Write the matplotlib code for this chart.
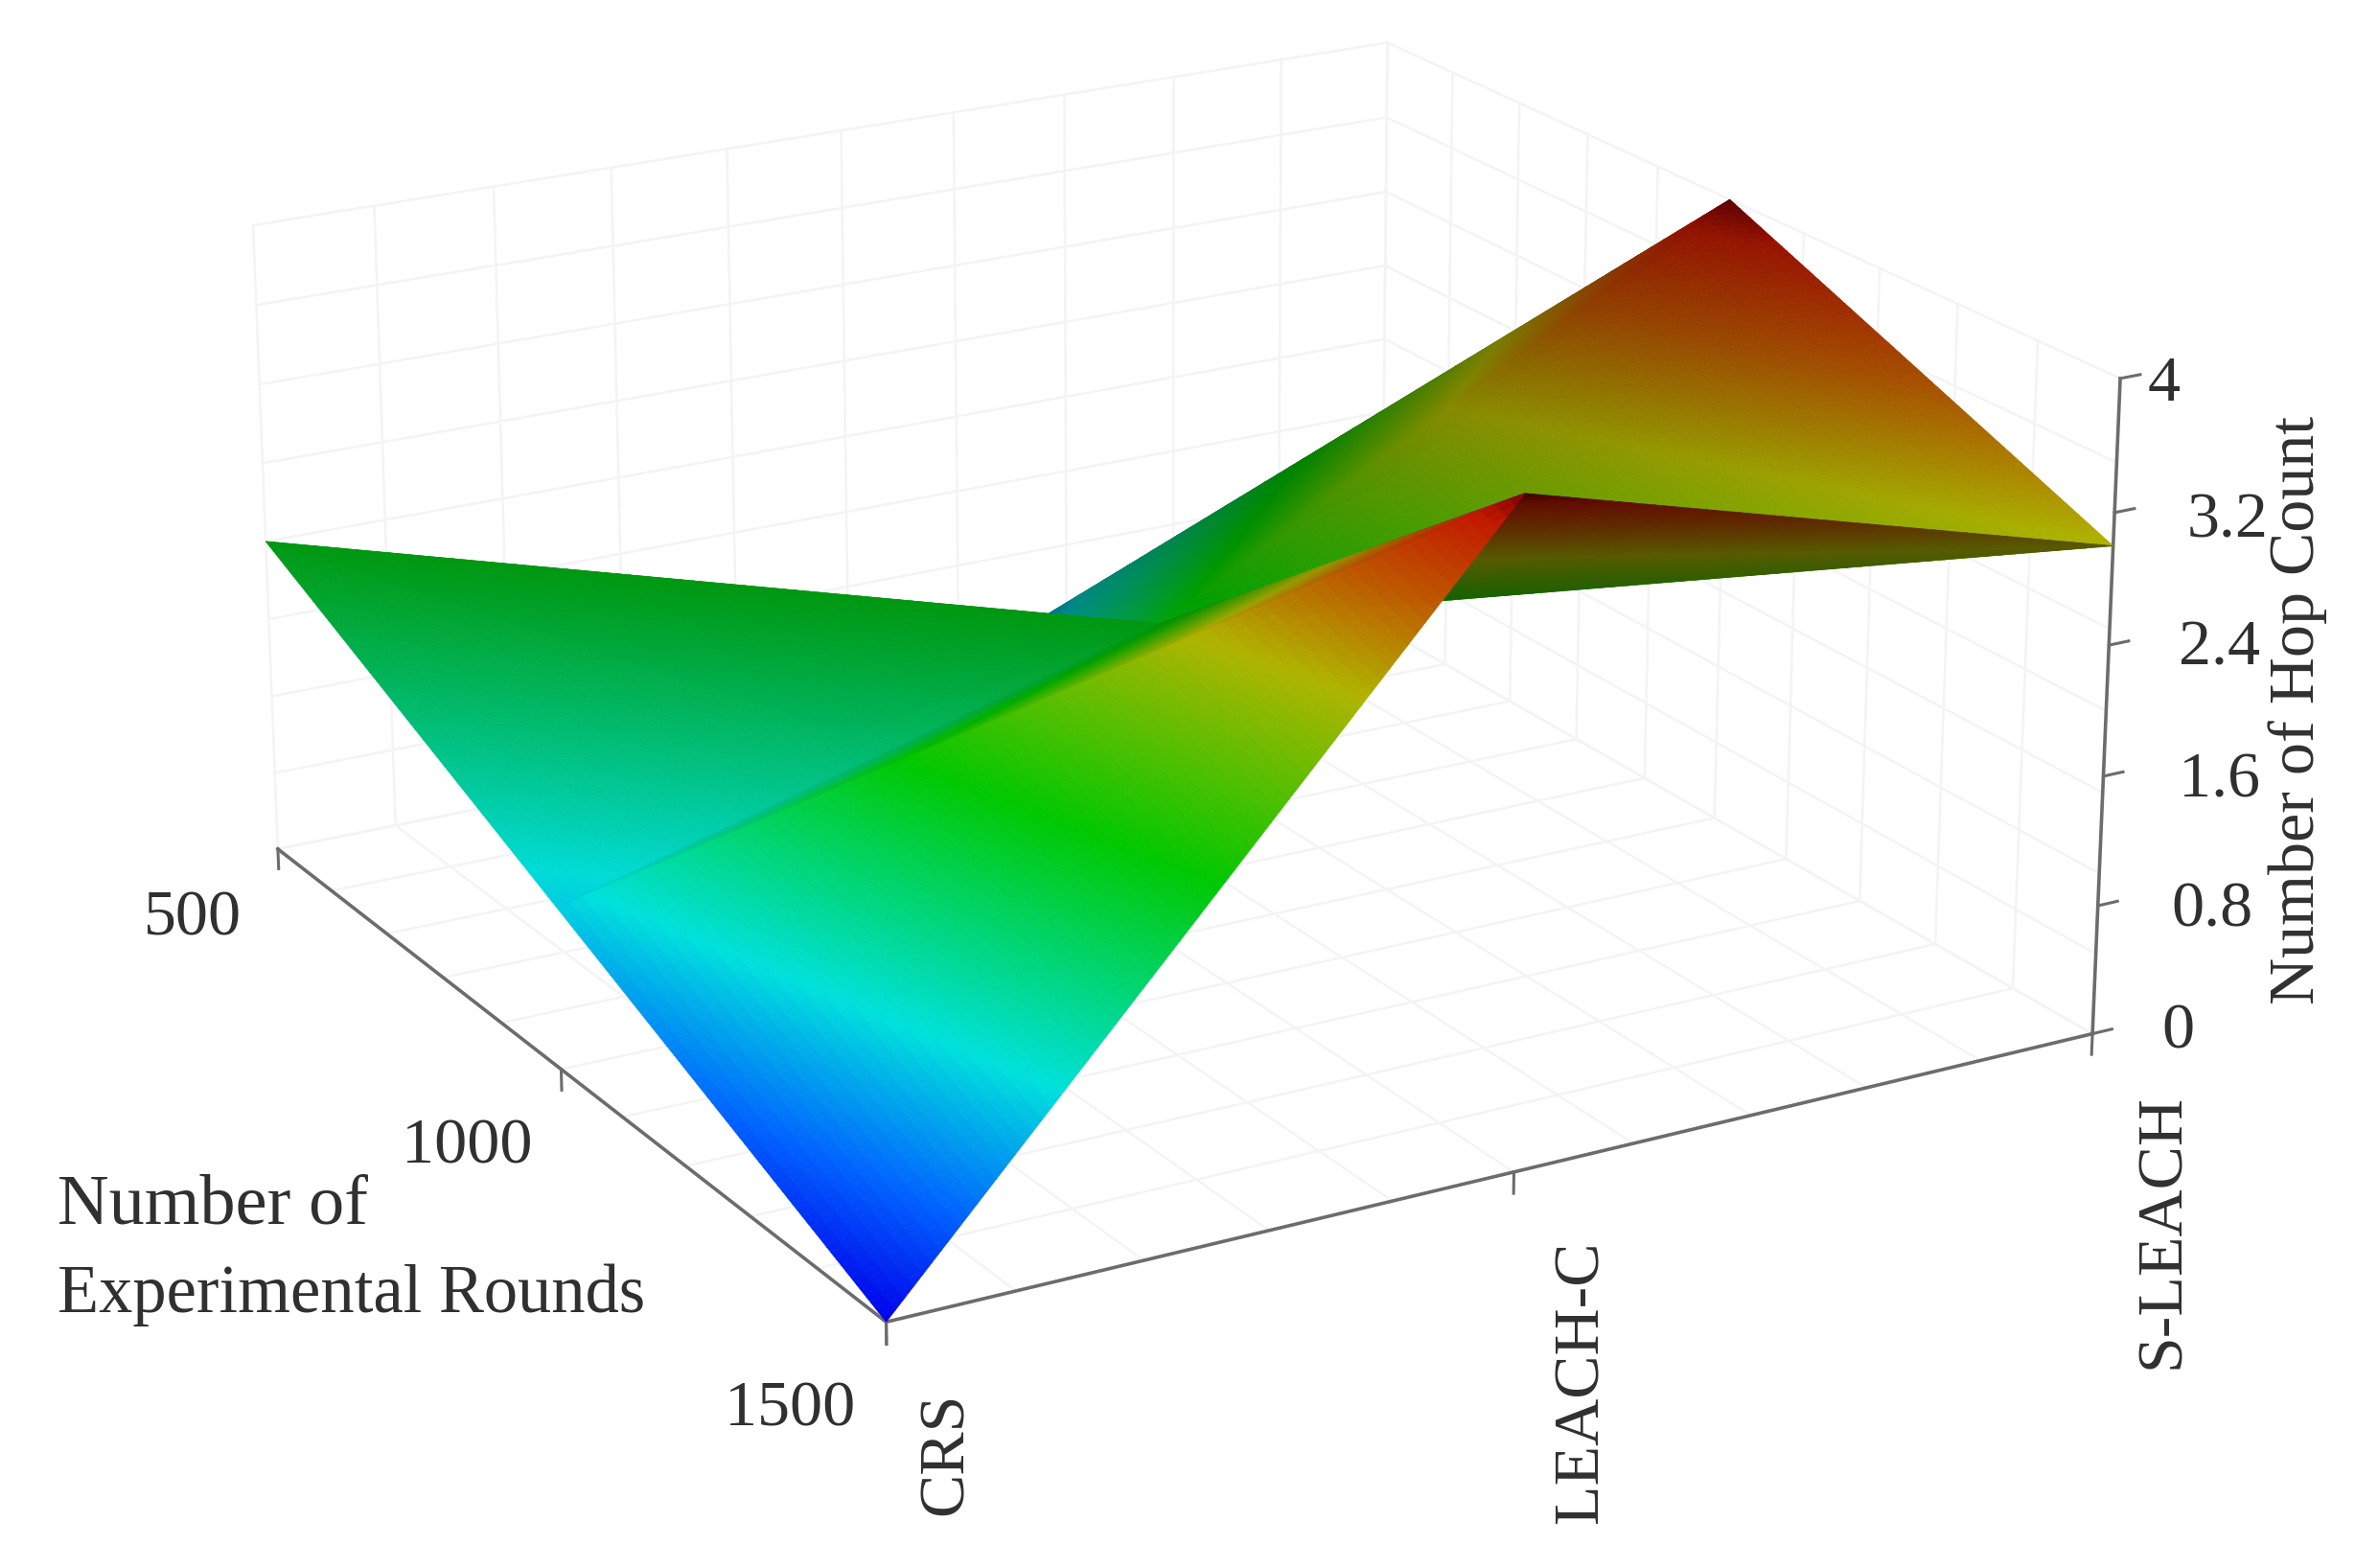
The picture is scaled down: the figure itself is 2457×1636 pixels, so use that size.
import numpy as np
import matplotlib
matplotlib.use('Agg')
import matplotlib.pyplot as plt
from mpl_toolkits.mplot3d.art3d import Poly3DCollection

# ---- data ----
protocols = ['CRS', 'LEACH-C', 'S-LEACH']
rounds = [500, 1000, 1500]
hop_crs = [2.0, 1.0, 0.0]
hop_leach_c = [0.0, 2.0, 4.0]
hop_s_leach = [1.0, 4.0, 3.0]
z_ticks = [0, 0.8, 1.6, 2.4, 3.2, 4]

plt.rcParams['font.family'] = ['Liberation Serif', 'DejaVu Serif']

W_PX, H_PX = 2457, 1636
fig = plt.figure(figsize=(W_PX / 100, H_PX / 100), dpi=100, facecolor='white')

# camera and placement
AX_W = 11089.7 * 0.19 * 0.972
CX, CY = 1182.3, 678.5
ax = fig.add_axes([(CX - AX_W / 2) / W_PX, (H_PX - CY - AX_W / 2) / H_PX, AX_W / W_PX, AX_W / H_PX],
                  projection='3d')
ax.set_xlim(0, 2)
ax.set_ylim(1500, 500)
ax.set_zlim(0, 4)
ax.view_init(20.032, -119.913)
ax.set_proj_type('persp', focal_length=0.77)
ax.set_box_aspect((1.981, 1.978, 1.0))
ax.set_axis_off()
ax.computed_zorder = False
ax.patch.set_alpha(0)

# colour ramp of the surface, by height
ramp_z = [0, 0.5, 1.1, 2.1, 3.0, 3.45, 3.85, 4.0]
ramp_rgb = np.array([(0, 0, 235), (0, 100, 255), (0, 225, 220), (0, 200, 0),
                     (175, 180, 0), (190, 90, 0), (195, 25, 0), (125, 0, 0)]) / 255.0


def ramp(z):
    return np.column_stack([np.interp(z, ramp_z, ramp_rgb[:, i]) for i in range(3)])


Z = np.array([hop_crs, hop_leach_c, hop_s_leach])  # [protocol, round]
Y = np.array(rounds, float)

# triangles: (protocol index, round index) with brightness per corner
tris = [
    (((0, 0), (1, 0), (1, 1)), (0.7, 0.7, 0.7)),
    (((1, 0), (2, 0), (2, 1)), (0.55, 0.55, 0.55)),
    (((0, 0), (0, 1), (1, 1)), (0.75, 1.0, 0.75)),
    (((1, 0), (1, 1), (2, 1)), (0.55, 0.8, 0.74)),
    (((1, 1), (2, 1), (2, 2)), (0.8, 0.74, 1.0)),
    (((0, 1), (1, 1), (1, 2)), (0.95, 0.72, 0.95)),
    (((1, 1), (1, 2), (2, 2)), (0.5, 0.5, 0.5)),
    (((0, 1), (0, 2), (1, 2)), (1.0, 1.0, 1.0)),
]

N = 70
verts, cols = [], []
for corners, shades in tris:
    pts = np.array([(i, Y[j], Z[i, j]) for i, j in corners], float)
    sh = np.array(shades)

    def bary(a, b):
        c = N - a - b
        w = np.array([a, b, c]) / N
        return w @ pts, w @ sh

    for a in range(N):
        for b in range(N - a):
            t1 = [bary(a, b), bary(a + 1, b), bary(a, b + 1)]
            tl = [t1]
            if a + b < N - 1:
                tl.append([bary(a + 1, b), bary(a + 1, b + 1), bary(a, b + 1)])
            for t in tl:
                P = np.array([q[0] for q in t])
                s = np.mean([q[1] for q in t])
                verts.append(P)
                cols.append(np.clip(ramp(np.array([P[:, 2].mean()]))[0] * s, 0, 1))

# light grid on floor and walls
GRID = '#f4f4f4'
gx = np.linspace(0, 2, 11)
gy = np.linspace(500, 1500, 11)
gz = np.linspace(0, 4, 9)
gk = dict(color=GRID, lw=1.8, zorder=1, clip_on=False)
for x in gx:
    ax.plot([x, x], [500, 1500], [0, 0], **gk)
    ax.plot([x, x], [500, 500], [0, 4], **gk)
for y in gy:
    ax.plot([0, 2], [y, y], [0, 0], **gk)
    ax.plot([2, 2], [y, y], [0, 4], **gk)
for z in gz:
    ax.plot([0, 2], [500, 500], [z, z], **gk)
    ax.plot([2, 2], [500, 1500], [z, z], **gk)

# axes
AXC = '#6c6c6c'
ak = dict(color=AXC, lw=2.6, zorder=2, clip_on=False)
tk = dict(color=AXC, lw=2.2, zorder=2, clip_on=False)
ax.plot([0, 0], [500, 1500], [0, 0], **ak)
ax.plot([0, 2], [1500, 1500], [0, 0], **ak)
ax.plot([2, 2], [1500, 1500], [0, 4], **ak)
for y in rounds:
    ax.plot([0, 0], [y, y], [0, -0.13], **tk)
for x in range(3):
    ax.plot([x, x], [1500, 1500], [0, -0.13], **tk)
for z in z_ticks:
    ax.plot([2, 2.035], [1500, 1500], [z, z], **tk)

surf = Poly3DCollection(verts, facecolors=cols, edgecolors=cols, linewidths=0.5, zorder=3, clip_on=False)
surf.set_zsort('average')
ax.add_collection3d(surf)


# text: positions given in the 1568x1044 picture frame
def put(px, py, s, size=49, rot=0, ha='center'):
    fig.text(px / 1568, 1 - py / 1044, s, fontsize=size, rotation=rot, ha=ha, va='center',
             color='#303030')


for s, (px, py) in zip(rounds, [(128, 612), (311, 764), (526, 939)]):
    put(px, py, str(s))
for s, (px, py) in zip(protocols, [(630, 968), (1053, 920), (1440, 820)]):
    put(px, py, s, rot=90)
for s, (px, py) in zip(z_ticks, [(1450, 687), (1473, 606), (1478, 520), (1478, 432), (1483, 347), (1441, 256)]):
    put(px, py, str(s))
put(1530, 473, 'Number of Hop Count', rot=90)
put(38, 803, 'Number of', size=53.5, ha='left')
put(38, 862, 'Experimental Rounds', size=50.8, ha='left')

fig.savefig('out.png', dpi=100)
